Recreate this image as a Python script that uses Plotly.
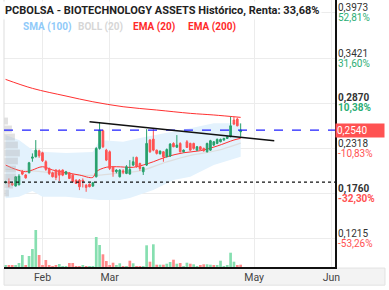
import plotly.graph_objects as go
import pandas as pd

# ---------------- data ----------------
dates = pd.bdate_range("2023-01-17", periods=71)

opens = [0.1895,0.1907,0.1886,0.1854,0.1870,0.2029,0.1990,0.2017,0.2195,0.2213,
         0.2286,0.2262,0.2152,0.2070,0.2017,0.2050,0.2045,0.2050,0.2001,0.2017,
         0.1988,0.1927,0.1927,0.1925,0.1866,0.1878,0.1854,0.1968,0.2315,0.2531,
         0.2294,0.2274,0.2090,0.2030,0.1968,0.2040,0.2009,0.2001,0.2111,0.2205,
         0.2131,0.2029,0.2111,0.2417,0.2429,0.2294,0.2250,0.2274,0.2213,0.2221,
         0.2376,0.2330,0.2376,0.2274,0.2396,0.2376,0.2376,0.2294,0.2335,0.2315,
         0.2274,0.2294,0.2356,0.2376,0.2396,0.2417,0.2437,0.2458,0.2662,0.2674,
         0.2519]
highs = [0.1920,0.1948,0.1895,0.1975,0.2000,0.2050,0.2000,0.2150,0.2254,0.2417,
         0.2300,0.2274,0.2170,0.2080,0.2030,0.2060,0.2060,0.2058,0.2040,0.2025,
         0.2000,0.1935,0.1940,0.1948,0.1878,0.1886,0.1905,0.2330,0.2633,0.2545,
         0.2310,0.2290,0.2100,0.2060,0.2060,0.2060,0.2110,0.2172,0.2213,0.2215,
         0.2140,0.2090,0.2551,0.2430,0.2551,0.2300,0.2290,0.2282,0.2315,0.2380,
         0.2390,0.2478,0.2390,0.2302,0.2417,0.2385,0.2385,0.2345,0.2345,0.2325,
         0.2385,0.2420,0.2405,0.2437,0.2435,0.2445,0.2465,0.2702,0.2700,0.2690,
         0.2621]
lows = [0.1885,0.1840,0.1855,0.1850,0.1862,0.1988,0.1945,0.2010,0.2152,0.2205,
        0.2200,0.2150,0.2040,0.1990,0.1960,0.1927,0.1915,0.1975,0.1995,0.1940,
        0.1895,0.1880,0.1805,0.1837,0.1784,0.1840,0.1845,0.1960,0.2300,0.2320,
        0.2160,0.2050,0.1968,0.2010,0.1960,0.2000,0.2000,0.1995,0.2100,0.2080,
        0.2040,0.1990,0.2100,0.2260,0.2280,0.2240,0.2240,0.2152,0.2205,0.2210,
        0.2330,0.2320,0.2265,0.2265,0.2320,0.2285,0.2300,0.2285,0.2295,0.2275,
        0.2265,0.2285,0.2345,0.2368,0.2390,0.2410,0.2430,0.2450,0.2600,0.2585,
        0.2458]
closes = [0.1905,0.1890,0.1870,0.1968,0.1976,0.2001,0.1955,0.2139,0.2210,0.2294,
          0.2225,0.2164,0.2058,0.2009,0.1968,0.1960,0.1988,0.1988,0.2029,0.1948,
          0.1907,0.1886,0.1846,0.1912,0.1837,0.1846,0.1895,0.2315,0.2539,0.2335,
          0.2172,0.2070,0.2029,0.2050,0.2050,0.2025,0.2090,0.2058,0.2152,0.2090,
          0.2070,0.2082,0.2376,0.2274,0.2294,0.2254,0.2282,0.2213,0.2302,0.2368,
          0.2335,0.2356,0.2274,0.2294,0.2327,0.2294,0.2315,0.2335,0.2302,0.2286,
          0.2376,0.2409,0.2396,0.2425,0.2425,0.2437,0.2458,0.2592,0.2613,0.2592,
          0.2540]
volumes = [20,13,13,13,40,120,20,110,180,370,120,20,70,20,10,13,30,8,10,40,
           40,10,5,20,6,10,10,300,220,127,60,15,43,15,37,8,8,63,37,8,
           8,10,217,53,227,23,23,23,33,50,73,33,40,10,43,33,27,10,17,27,
           27,23,17,17,63,10,17,143,53,17,23]

ema200_dates = ["2023-01-17","2023-01-27","2023-02-10","2023-02-22","2023-03-07",
                "2023-03-21","2023-04-04","2023-04-13","2023-04-25"]
ema200_vals = [0.3160,0.3050,0.2956,0.2886,0.2825,0.2785,0.2744,0.2724,0.2695]

ema20_dates = ["2023-01-17","2023-01-20","2023-01-25","2023-01-27","2023-02-01",
               "2023-02-06","2023-02-10","2023-02-16","2023-02-22","2023-02-23",
               "2023-02-28","2023-03-03","2023-03-10","2023-03-15","2023-03-20",
               "2023-03-24","2023-03-31","2023-04-07","2023-04-14","2023-04-21",
               "2023-04-25"]
ema20_vals = [0.2112,0.2059,0.2030,0.2051,0.2091,0.2051,0.2018,0.1989,0.1961,0.2030,
              0.2084,0.2091,0.2084,0.2112,0.2152,0.2213,0.2262,0.2287,0.2344,0.2418,
              0.2438]

boll_mid_dates = ["2023-01-17","2023-01-27","2023-02-10","2023-02-22","2023-03-03",
                  "2023-03-14","2023-03-24","2023-04-04","2023-04-14","2023-04-25"]
boll_mid_vals = [0.2060,0.2040,0.2000,0.1985,0.2010,0.2040,0.2150,0.2230,0.2290,0.2380]

band_up_dates = ["2023-01-17","2023-01-23","2023-01-27","2023-02-02","2023-02-10",
                 "2023-02-17","2023-02-22","2023-02-24","2023-03-07","2023-03-14",
                 "2023-03-21","2023-03-28","2023-04-04","2023-04-13","2023-04-25"]
band_up_vals = [0.2479,0.2418,0.2295,0.2271,0.2259,0.2271,0.2271,0.2418,0.2397,0.2442,
                0.2479,0.2519,0.2561,0.2622,0.2622]
band_lo_dates = ["2023-01-17","2023-01-23","2023-01-27","2023-02-01","2023-02-10",
                 "2023-02-24","2023-03-06","2023-03-09","2023-03-14","2023-03-20",
                 "2023-03-28","2023-04-04","2023-04-13","2023-04-25"]
band_lo_vals = [0.1704,0.1724,0.1794,0.1724,0.1724,0.1684,0.1684,0.1708,0.1745,0.1806,
                0.1928,0.1969,0.2112,0.2213]

profile_prices = [0.2650,0.2552,0.2454,0.2357,0.2259,0.2161,0.2063,0.1965,0.1867,0.1770]
profile_vols = [1.2,2.4,3.3,4.2,4.8,4.2,3.6,3.6,2.7,1.5]

trend_dates = ["2023-02-21","2023-05-09"]
trend_vals = [0.2642,0.2409]

last_price = 0.2540
support_level = 0.1903

ytick_vals = [0.3973,0.3421,0.2870,0.2318,0.1760,0.1215]
ytick_text = ["0,3973","0,3421","0,2870","0,2318","0,1760","0,1215"]
ytick_pct = ["52,81%","31,60%","10,38%","-10,83%","-32,30%","-53,26%"]
ytick_bold = [False,False,True,False,True,False]

month_ticks = ["2023-02-01","2023-03-01","2023-04-01","2023-05-01","2023-06-01"]
month_labels = ["Feb","Mar","Abr","May","Jun"]

title_text = "PCBOLSA - BIOTECHNOLOGY ASSETS Histórico, Renta: 33,68%"
legend_items = ["SMA (100)","BOLL (20)","EMA (20)","EMA (200)"]
legend_colors = ["#90caf9","#d6d6d6","#ff2a2a","#ff2a2a"]

# ---------------- styles ----------------
GREEN = "#27a06c"
RED = "#ff5252"
VGREEN = "#86dfb0"
VRED = "#ff8a8a"
FONT = "Roboto"
YRANGE = [0.0864, 0.4131]

fig = go.Figure()

# bollinger band polygon
fig.add_trace(go.Scatter(
    x=band_up_dates + band_lo_dates[::-1],
    y=band_up_vals + band_lo_vals[::-1],
    fill="toself", fillcolor="#e3f2fd", line=dict(width=0),
    mode="lines", hoverinfo="skip", showlegend=False))

fig.add_trace(go.Scatter(x=boll_mid_dates, y=boll_mid_vals, mode="lines",
                         line=dict(color="#dedede", width=1.2, shape="spline"),
                         showlegend=False))

fig.add_trace(go.Scatter(x=ema200_dates, y=ema200_vals, mode="lines",
                         line=dict(color="#ff3030", width=1, shape="spline"),
                         showlegend=False))
fig.add_trace(go.Scatter(x=ema20_dates, y=ema20_vals, mode="lines",
                         line=dict(color="#ff3030", width=1, shape="spline"),
                         showlegend=False))

# volume profile on left
fig.add_trace(go.Bar(x=profile_vols, y=profile_prices, orientation="h", xaxis="x2",
                     width=0.0085, marker=dict(color="rgba(170,170,170,0.35)", line=dict(width=0)),
                     showlegend=False))

# volume bars colored by change vs previous close
vcolors = []
prev = None
for c in closes:
    if prev is None or c >= prev:
        vcolors.append(VGREEN)
    else:
        vcolors.append(VRED)
    prev = c
fig.add_trace(go.Bar(x=dates, y=volumes, yaxis="y2", marker=dict(color=vcolors, line=dict(width=0)),
                     showlegend=False))

# candles on an overlay y axis so they are drawn above the band
fig.add_trace(go.Candlestick(
    x=dates, open=opens, high=highs, low=lows, close=closes, yaxis="y3",
    increasing=dict(line=dict(color=GREEN, width=1), fillcolor=GREEN),
    decreasing=dict(line=dict(color=RED, width=1), fillcolor=RED),
    whiskerwidth=0, showlegend=False))

shapes = []
shapes.append(dict(type="rect", xref="paper", yref="paper", x0=0, x1=1.151, y0=-0.068, y1=-0.004,
                   fillcolor="#f3f3f3", line=dict(color="#e2e2e2", width=1), layer="below"))
shapes.append(dict(type="line", xref="paper", yref="paper", x0=0, x1=0, y0=0, y1=1,
                   line=dict(color="#dddddd", width=1)))
shapes.append(dict(type="line", xref="paper", yref="y", x0=0, x1=1, y0=last_price, y1=last_price,
                   line=dict(color="#1f1fff", width=1.2, dash="dash")))
shapes.append(dict(type="line", xref="paper", yref="y", x0=0, x1=1, y0=support_level, y1=support_level,
                   line=dict(color="#111111", width=1.2, dash="dot")))
shapes.append(dict(type="line", xref="x", yref="y", x0=trend_dates[0], x1=trend_dates[1],
                   y0=trend_vals[0], y1=trend_vals[1], line=dict(color="#111111", width=1.5)))

annotations = []
for v, t, p, b in zip(ytick_vals, ytick_text, ytick_pct, ytick_bold):
    pc = "#2bae74" if not p.startswith("-") else "#ff5252"
    tv = f"<b>{t}</b>" if b else t
    tp = f"<b>{p}</b>" if b else p
    annotations.append(dict(xref="paper", yref="y", x=1.0, y=v, xanchor="left", yanchor="middle",
                            xshift=1, yshift=5, text=tv, showarrow=False,
                            font=dict(family=FONT, size=10, color="#333333")))
    annotations.append(dict(xref="paper", yref="y", x=1.0, y=v, xanchor="left", yanchor="middle",
                            xshift=1, yshift=-5, text=tp, showarrow=False,
                            font=dict(family=FONT, size=10, color=pc)))

annotations.append(dict(xref="paper", yref="y", x=1.0, y=last_price, xanchor="left", yanchor="middle",
                        text=f"{last_price:.4f}".replace(".", ","), showarrow=False,
                        bgcolor=RED, borderpad=1, width=46, align="left",
                        font=dict(family=FONT, size=10, color="white")))

annotations.append(dict(xref="paper", yref="paper", x=0, y=1, xanchor="left", yanchor="top",
                        xshift=-2, yshift=-1,
                        text=f"<b>{title_text}</b>", showarrow=False, bgcolor="rgba(255,255,255,0.85)",
                        borderpad=2, font=dict(family=FONT, size=11, color="#222222")))

legend_x = [21, 76, 131, 186]
for txt, col, px in zip(legend_items, legend_colors, legend_x):
    annotations.append(dict(xref="paper", yref="paper", x=(px - 4) / 331, y=1, yshift=-27,
                            xanchor="left", yanchor="middle", text=f"<b>{txt}</b>", showarrow=False,
                            font=dict(family=FONT, size=10, color=col)))

fig.update_layout(
    width=389, height=290,
    margin=dict(l=4, r=54, t=0, b=23),
    paper_bgcolor="white", plot_bgcolor="white",
    bargap=0.2,
    xaxis=dict(type="date", range=["2023-01-16 13:00", "2023-06-02 02:00"],
               rangebreaks=[dict(bounds=["sat", "mon"])],
               tickvals=month_ticks, ticktext=month_labels,
               showgrid=True, gridcolor="#ececec", gridwidth=1,
               showline=True, linecolor="#111111", linewidth=1.5,
               ticks="", tickfont=dict(family=FONT, size=10.5, color="#444444"),
               rangeslider=dict(visible=False), zeroline=False),
    xaxis2=dict(overlaying="x", range=[0, 100], visible=False),
    yaxis=dict(side="right", range=YRANGE, tickvals=ytick_vals,
               showticklabels=False, showgrid=True, gridcolor="#ececec",
               showline=True, linecolor="#111111", linewidth=1.5, zeroline=False, ticks=""),
    yaxis2=dict(overlaying="y", range=[0, 2670], visible=False),
    yaxis3=dict(overlaying="y", range=YRANGE, visible=False),
    shapes=shapes, annotations=annotations,
    showlegend=False,
    font=dict(family=FONT),
)

fig.write_html("out.html")
